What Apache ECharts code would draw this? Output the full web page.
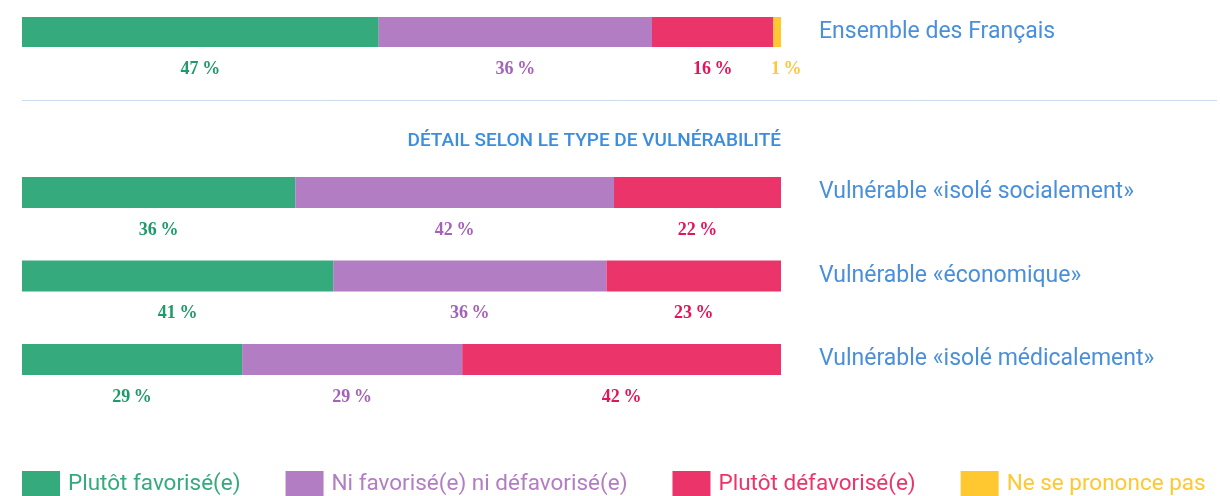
<!DOCTYPE html>
<html>
<head>
<meta charset="utf-8">
<script src="https://cdn.jsdelivr.net/npm/echarts@6/dist/echarts.min.js"></script>
<style>
  html, body { margin: 0; padding: 0; background: #fff; }
  #chart { width: 1220px; height: 496px; }
</style>
</head>
<body>
<div id="chart"></div>
<script>
// données
var seriesNames = ['Plutôt favorisé(e)', 'Ni favorisé(e) ni défavorisé(e)', 'Plutôt défavorisé(e)', 'Ne se prononce pas'];
var topCategories = ['Ensemble des Français'];
var detailCategories = ['Vulnérable «isolé socialement»', 'Vulnérable «économique»', 'Vulnérable «isolé médicalement»'];
var topFavorise = [47];
var topNeutre = [36];
var topDefavorise = [16];
var topNsp = [1];
var detailFavorise = [36, 41, 29];
var detailNeutre = [42, 36, 29];
var detailDefavorise = [22, 23, 42];
var detailNsp = [0, 0, 0];

var barColors = ['#35ab7d', '#b27dc2', '#ea346a', '#ffc730'];
var labelColors = ['#1f9a6a', '#a463b8', '#e3145a', '#ffc83a'];

var chartDom = document.getElementById('chart');
var myChart = echarts.init(chartDom);

function makeSeries(name, idx, values, axisIdx, extraLabel) {
    return {
        name: name,
        type: 'bar',
        stack: 'tot' + axisIdx,
        xAxisIndex: axisIdx,
        yAxisIndex: axisIdx,
        barWidth: axisIdx === 0 ? 30 : 31,
        itemStyle: { color: barColors[idx] },
        data: values.map(function (v) {
            var item = { value: v };
            if (extraLabel) item.label = extraLabel;
            return item;
        }),
        label: {
            show: true,
            position: 'bottom',
            distance: 13,
            color: labelColors[idx],
            fontFamily: 'Liberation Serif',
            fontWeight: 'bold',
            fontSize: 18,
            formatter: function (p) {
                return p.value ? p.value + '\u2009%' : '';
            }
        }
    };
}

var catAxisCommon = {
    type: 'category',
    inverse: true,
    position: 'right',
    axisLine: { show: false },
    axisTick: { show: false },
    splitLine: { show: false },
    axisLabel: {
        margin: 38,
        padding: [6, 0, 0, 0],
        color: '#4a8fda',
        fontFamily: 'Roboto',
        fontSize: 23
    }
};

var option = {
    animation: false,
    backgroundColor: '#fff',
    title: {
        text: 'DÉTAIL SELON LE TYPE DE VULNÉRABILITÉ',
        right: 439,
        top: 132,
        padding: 0,
        textStyle: {
            color: '#3b8ddf',
            fontFamily: 'Roboto',
            fontWeight: 500,
            fontSize: 19
        }
    },
    legend: {
        left: 22,
        top: 471,
        width: 1300,
        padding: 0,
        itemWidth: 38,
        itemHeight: 26,
        itemGap: 45,
        icon: 'rect',
        selectedMode: false,
        data: seriesNames.map(function (n, i) {
            return {
                name: n,
                itemStyle: { color: barColors[i] },
                textStyle: {
                    color: barColors[i],
                    fontFamily: 'Roboto',
                    fontSize: 22.5,
                    padding: [0, 0, 0, 3]
                }
            };
        })
    },
    graphic: [{
        type: 'line',
        shape: { x1: 22, y1: 100.5, x2: 1217, y2: 100.5 },
        style: { stroke: '#c9ddef', lineWidth: 1 },
        silent: true
    }],
    grid: [
        { left: 22, width: 759, top: 2, height: 60 },
        { left: 22, width: 759, top: 150.75, height: 250.5 }
    ],
    xAxis: [
        { type: 'value', gridIndex: 0, min: 0, max: 100, show: false },
        { type: 'value', gridIndex: 1, min: 0, max: 100, show: false }
    ],
    yAxis: [
        Object.assign({ gridIndex: 0, data: topCategories }, catAxisCommon),
        Object.assign({ gridIndex: 1, data: detailCategories }, catAxisCommon)
    ],
    series: [
        makeSeries(seriesNames[0], 0, topFavorise, 0),
        makeSeries(seriesNames[1], 1, topNeutre, 0),
        makeSeries(seriesNames[2], 2, topDefavorise, 0),
        makeSeries(seriesNames[3], 3, topNsp, 0, { offset: [9, 0] }),
        makeSeries(seriesNames[0], 0, detailFavorise, 1),
        makeSeries(seriesNames[1], 1, detailNeutre, 1),
        makeSeries(seriesNames[2], 2, detailDefavorise, 1),
        makeSeries(seriesNames[3], 3, detailNsp, 1)
    ]
};

option && myChart.setOption(option);
</script>
</body>
</html>
